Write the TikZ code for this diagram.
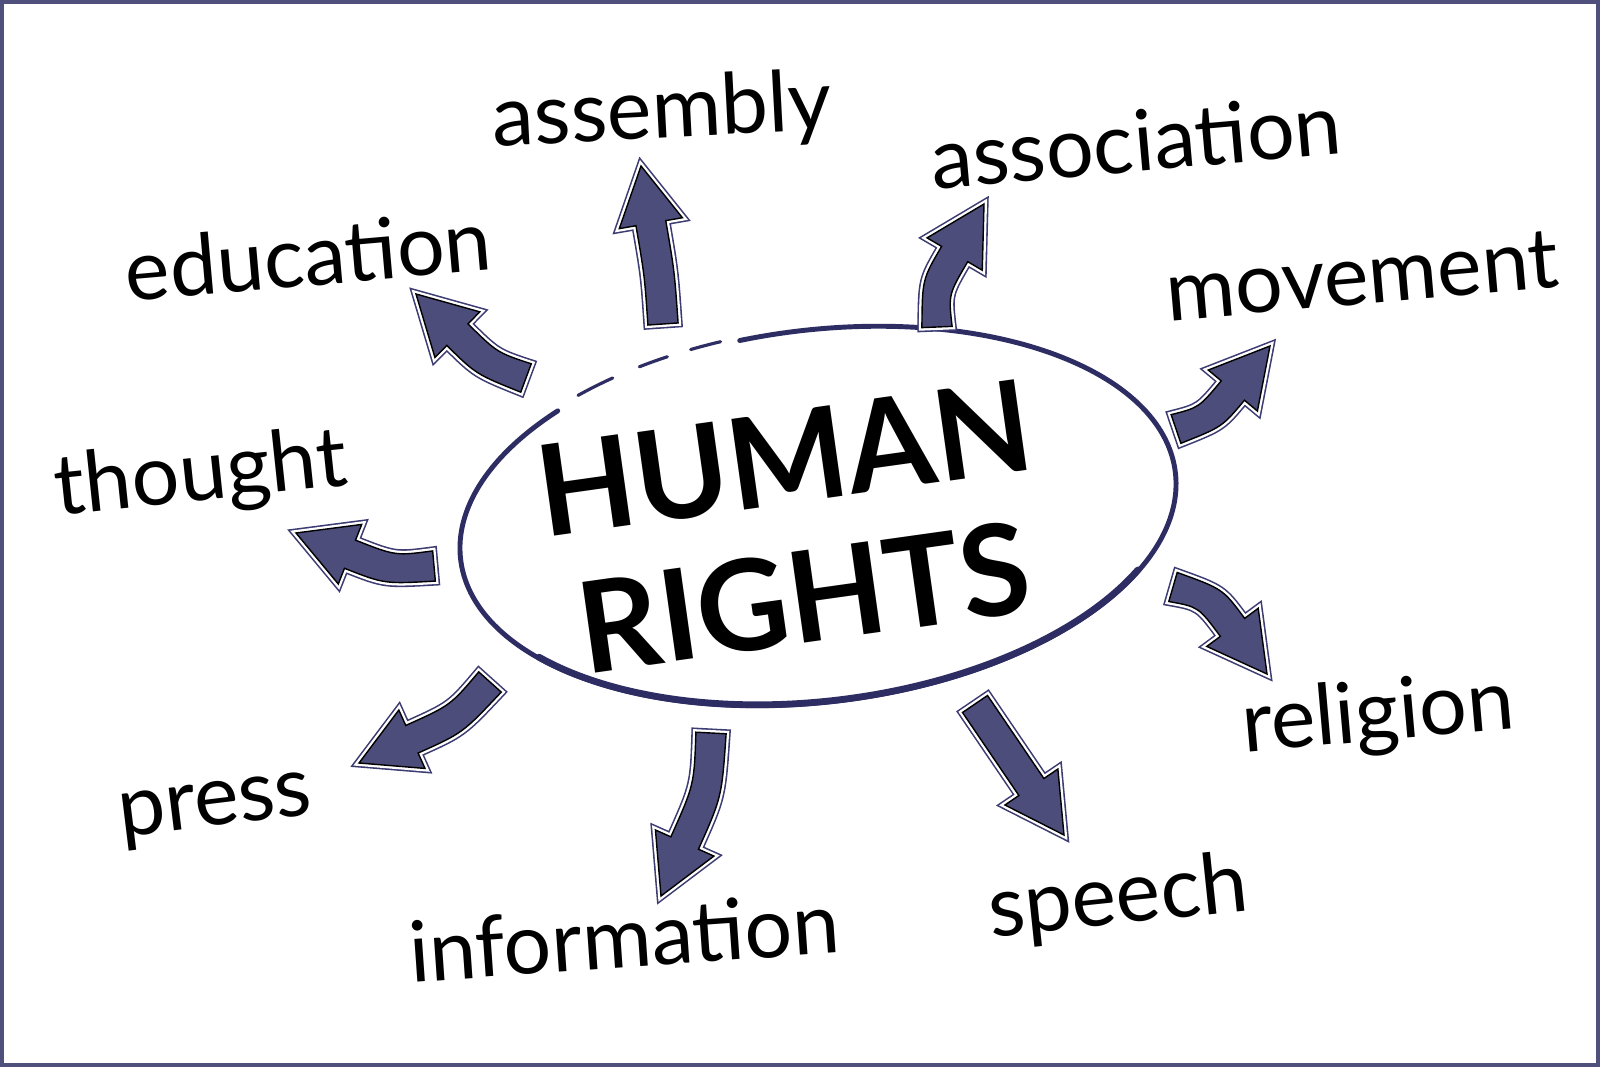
\documentclass[tikz,border=0pt]{standalone}
\usepackage{fontspec}
\setmainfont{Lato}
\usetikzlibrary{calc}
\definecolor{arrowfill}{RGB}{76,77,122}
\definecolor{arrowline}{RGB}{60,60,115}
\definecolor{ringblue}{RGB}{45,45,100}
\definecolor{framegray}{RGB}{80,80,125}

\newcommand{\shaft}{4.3pt}
\newcommand{\head}{9.1pt}
\newcommand{\headlen}{16.5pt}

% curved block arrow: tail, tip, bend (positive = bows to the left)
\newcommand{\bigarrow}[3]{%
  \coordinate (#1-b) at ($(#2)!\headlen!(#1)$);
  \coordinate (#1-m) at ($(#1)!0.5!(#1-b)!#3!90:(#1-b)$);
  \coordinate (#1-h) at ($(#2)!\headlen!(#1-m)$);
  \draw[arrowbody]
    ($(#1)!\shaft!90:(#1-m)$) .. controls ($(#1-m)!\shaft!90:(#1-h)$) .. ($(#1-h)!\shaft!90:(#2)$)
    -- ($(#1-h)!\head!90:(#2)$) -- (#2) -- ($(#1-h)!\head!-90:(#2)$)
    -- ($(#1-h)!\shaft!-90:(#2)$) .. controls ($(#1-m)!\shaft!-90:(#1-h)$) .. ($(#1)!\shaft!-90:(#1-m)$)
    -- cycle;
}

\tikzset{
  arrowbody/.style={fill=arrowfill,
    preaction={draw=arrowline, line width=2.6pt},
    preaction={draw=white, line width=1.7pt}},
  topic/.style={font=\fontsize{24}{28}\selectfont, text=black, inner sep=0pt},
}

\begin{document}
\begin{tikzpicture}[line cap=round,line join=miter,x=0.01cm,y=0.01cm]
\useasboundingbox (0,0) rectangle (1600,-1067);
\fill[white] (0,0) rectangle (1600,-1067);
\draw[framegray, line width=1.2pt] (2.1,-2.1) rectangle (1597.9,-1064.9);

% the ring
\begin{scope}[shift={(818,-516)}, rotate=7, draw=ringblue]
  \draw[line width=1.4pt] (133:360 and 186) arc[start angle=133, end angle=459, x radius=360, y radius=186];
  \draw[line width=1.9pt] (215:359 and 185) arc[start angle=215, end angle=330, x radius=359, y radius=185];
  \foreach \a/\b in {102/107, 111/116, 121/128}
    \draw[line width=0.9pt] (\a:363 and 189) arc[start angle=\a, end angle=\b, x radius=363, y radius=189];
\end{scope}

\node[font=\fontsize{36}{40}\selectfont\bfseries, align=center, rotate=8] (rights) at (794,-528) {HUMAN\\RIGHTS};

% arrows
\coordinate (assemblyTail) at (663,-324);
\coordinate (assemblyTip) at (641,-166);
\coordinate (associationTail) at (937,-327);
\coordinate (associationTip) at (984,-204);
\coordinate (movementTail) at (1176,-429);
\coordinate (movementTip) at (1270,-346);
\coordinate (religionTail) at (1173,-587);
\coordinate (religionTip) at (1267,-674);
\coordinate (speechTail) at (975,-704);
\coordinate (speechTip) at (1064,-835);
\coordinate (informationTail) at (711,-733);
\coordinate (informationTip) at (661,-896);
\coordinate (pressTail) at (490,-682);
\coordinate (pressTip) at (359,-763);
\coordinate (thoughtTail) at (434,-566);
\coordinate (thoughtTip) at (296,-533);
\coordinate (educationTail) at (526,-378);
\coordinate (educationTip) at (416,-294);

\bigarrow{assemblyTail}{assemblyTip}{-1pt}
\bigarrow{associationTail}{associationTip}{4.5pt}
\bigarrow{movementTail}{movementTip}{-4pt}
\bigarrow{religionTail}{religionTip}{5pt}
\bigarrow{speechTail}{speechTip}{0pt}
\bigarrow{informationTail}{informationTip}{4pt}
\bigarrow{pressTail}{pressTip}{4pt}
\bigarrow{thoughtTail}{thoughtTip}{4pt}
\bigarrow{educationTail}{educationTip}{3.5pt}

% labels
\node[topic, rotate=3] (assembly) at (662,-114) {assembly};
\node[topic, rotate=5] (association) at (1136,-141) {association};
\node[topic, rotate=5] (education) at (308,-255) {education};
\node[topic, rotate=5] (movement) at (1362,-276) {movement};
\node[topic, rotate=6] (thought) at (201,-477) {thought};
\node[topic, rotate=5] (religion) at (1378,-717) {religion};
\node[topic, rotate=7] (press) at (216,-811) {press};
\node[topic, rotate=4] (information) at (624,-937) {information};
\node[topic, rotate=6] (speech) at (1118,-900) {speech};
\end{tikzpicture}
\end{document}
